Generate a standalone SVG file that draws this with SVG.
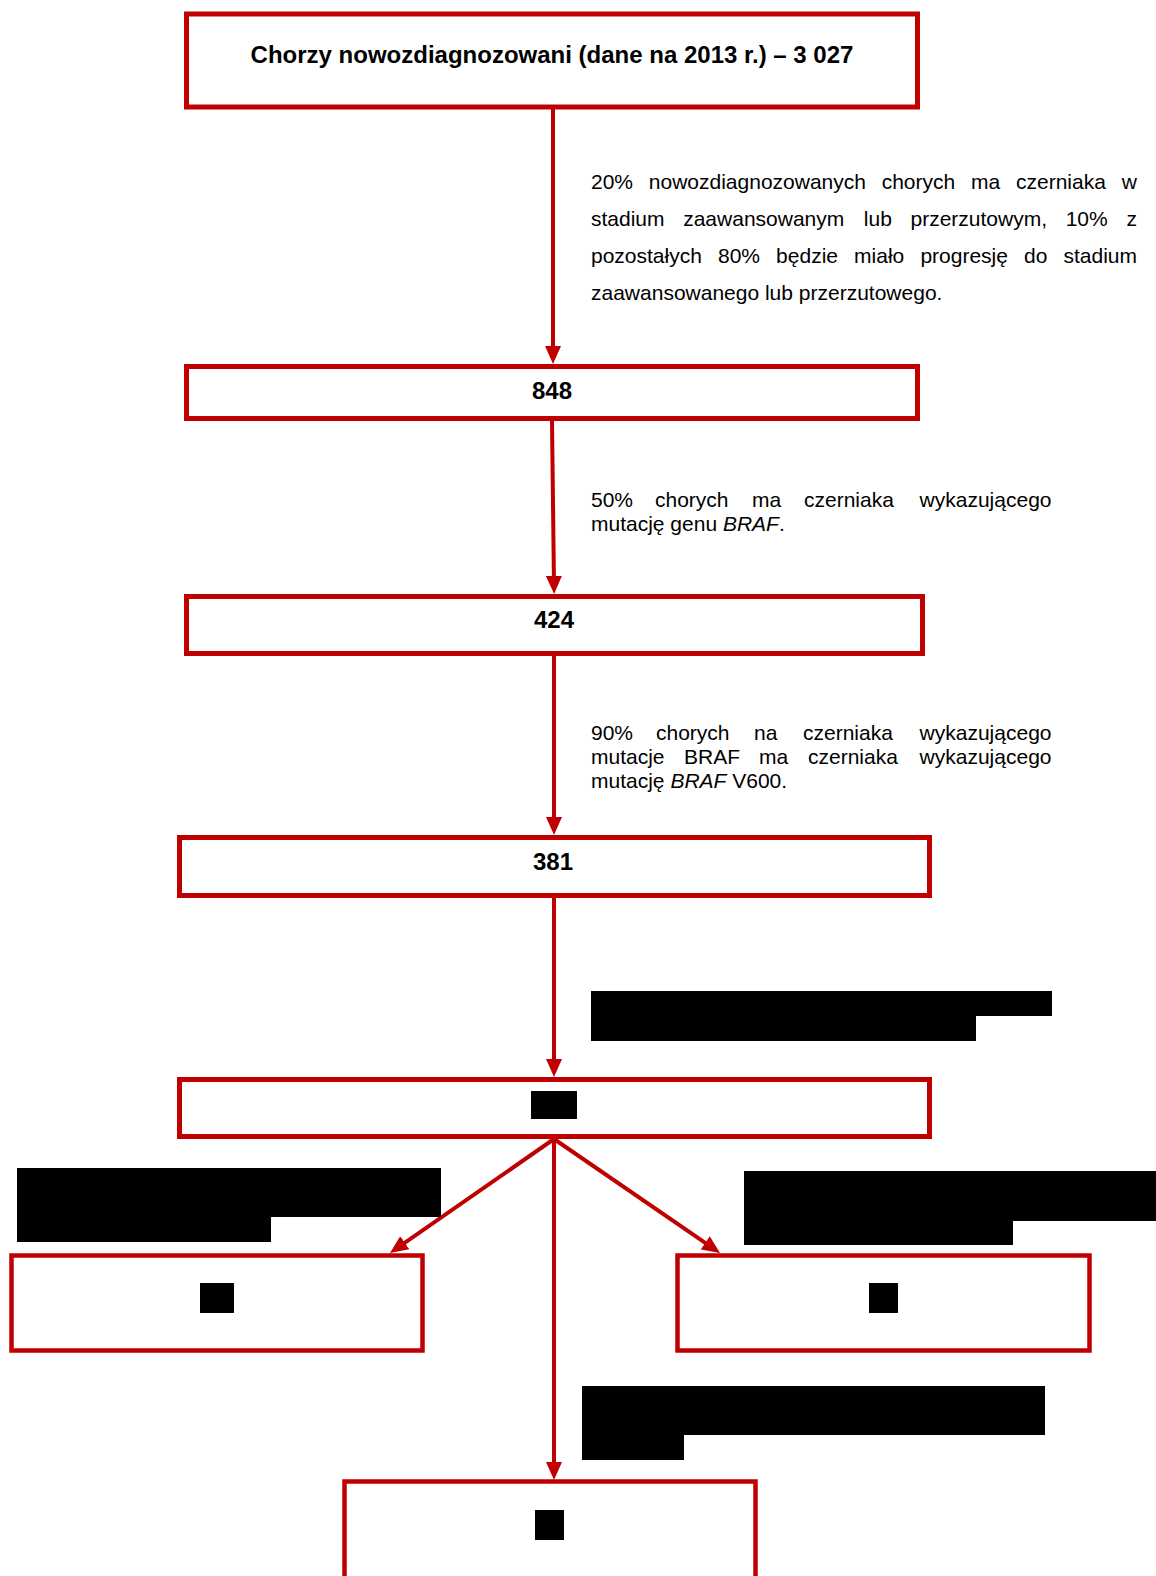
<svg xmlns="http://www.w3.org/2000/svg" width="1156" height="1576" viewBox="0 0 1156 1576">
<style>
.box{fill:#fff;stroke:#C00000;stroke-width:5}
.box2{fill:#fff;stroke:#C00000;stroke-width:4.5}
.con{fill:none;stroke:#C00000;stroke-width:4;marker-end:url(#ah)}
.t{font-family:"Liberation Sans",Arial,sans-serif;font-size:21px;fill:#000}
.b{font-family:"Liberation Sans",Arial,sans-serif;font-size:24px;font-weight:bold;fill:#000;text-anchor:middle}
.e{text-anchor:end}
.red{fill:#000}
</style>
<defs>
<marker id="ah" markerUnits="userSpaceOnUse" markerWidth="18" markerHeight="16" refX="8" refY="8" orient="auto">
<path d="M0,0 L18,8 L0,16 z" fill="#C00000"/>
</marker>
</defs>
<rect width="1156" height="1576" fill="#fff"/>

<g id="connectors">
<line class="con" x1="553" y1="109" x2="553" y2="354"/>
<line class="con" x1="552" y1="421" x2="554" y2="584"/>
<line class="con" x1="554" y1="656" x2="554" y2="825"/>
<line class="con" x1="554" y1="898" x2="554" y2="1067"/>
<line class="con" x1="554" y1="1139" x2="398.2" y2="1247.3"/>
<line class="con" x1="554" y1="1139" x2="711.8" y2="1247.3"/>
<line class="con" x1="554" y1="1139" x2="554" y2="1470"/>
</g>

<g id="node-start">
<rect class="box" x="186.5" y="14" width="731" height="93"/>
<text class="b" x="552" y="63">Chorzy nowozdiagnozowani (dane na 2013 r.) – 3 027</text>
</g>

<g id="label-1">
<text class="t" y="189"><tspan x="591">20%</tspan><tspan x="648.8">nowozdiagnozowanych</tspan><tspan x="881.7">chorych</tspan><tspan x="971">ma</tspan><tspan x="1016">czerniaka</tspan></text>
<text class="t e" x="1137" y="189">w</text>
<text class="t" y="226"><tspan x="591">stadium</tspan><tspan x="683.2">zaawansowanym</tspan><tspan x="863.8">lub</tspan><tspan x="910.5">przerzutowym,</tspan><tspan x="1065.7">10%</tspan></text>
<text class="t e" x="1137" y="226">z</text>
<text class="t" y="263"><tspan x="591">pozostałych</tspan><tspan x="718">80%</tspan><tspan x="776.1">będzie</tspan><tspan x="854.1">miało</tspan><tspan x="920.4">progresję</tspan><tspan x="1024">do</tspan></text>
<text class="t e" x="1137" y="263">stadium</text>
<text class="t" x="591" y="300">zaawansowanego lub przerzutowego.</text>
</g>

<g id="node-848">
<rect class="box" x="186.5" y="366.5" width="731" height="52"/>
<text class="b" x="552" y="399">848</text>
</g>

<g id="label-2">
<text class="t" y="507"><tspan x="591">50%</tspan><tspan x="655">chorych</tspan><tspan x="752">ma</tspan><tspan x="804">czerniaka</tspan></text>
<text class="t e" x="1051.5" y="507">wykazującego</text>
<text class="t" x="591" y="531">mutację genu <tspan font-style="italic">BRAF</tspan>.</text>
</g>

<g id="node-424">
<rect class="box" x="186.5" y="596.5" width="736" height="57"/>
<text class="b" x="554" y="628">424</text>
</g>

<g id="label-3">
<text class="t" y="740"><tspan x="591">90%</tspan><tspan x="656">chorych</tspan><tspan x="754">na</tspan><tspan x="803">czerniaka</tspan></text>
<text class="t e" x="1051.5" y="740">wykazującego</text>
<text class="t" y="764"><tspan x="591">mutacje</tspan><tspan x="684">BRAF</tspan><tspan x="759">ma</tspan><tspan x="808">czerniaka</tspan></text>
<text class="t e" x="1051.5" y="764">wykazującego</text>
<text class="t" x="591" y="788">mutację <tspan font-style="italic">BRAF</tspan> V600.</text>
</g>

<g id="node-381">
<rect class="box" x="179.5" y="837.5" width="750" height="58"/>
<text class="b" x="553" y="870">381</text>
</g>

<g id="label-4">
<rect class="red" x="591" y="991" width="461" height="25"/>
<rect class="red" x="591" y="1015" width="385" height="26"/>
</g>

<g id="node-5">
<rect class="box" x="179.5" y="1079.5" width="750" height="57"/>
<rect class="red" x="531" y="1091" width="46" height="28"/>
</g>

<g id="label-left">
<rect class="red" x="17" y="1168" width="424" height="49"/>
<rect class="red" x="17" y="1216" width="254" height="26"/>
</g>

<g id="label-right">
<rect class="red" x="744" y="1171" width="412" height="50"/>
<rect class="red" x="744" y="1220" width="269" height="25"/>
</g>

<g id="node-left">
<rect class="box2" x="11.5" y="1255.5" width="411" height="95"/>
<rect class="red" x="200" y="1283" width="34" height="30"/>
</g>

<g id="node-right">
<rect class="box2" x="677.5" y="1255.5" width="412" height="95"/>
<rect class="red" x="869" y="1283" width="29" height="30"/>
</g>

<g id="label-bottom">
<rect class="red" x="582" y="1386" width="463" height="49"/>
<rect class="red" x="582" y="1434" width="102" height="26"/>
</g>

<g id="node-bottom">
<rect class="box2" x="344.5" y="1481.5" width="411" height="120"/>
<rect class="red" x="535" y="1510" width="29" height="30"/>
</g>
</svg>
